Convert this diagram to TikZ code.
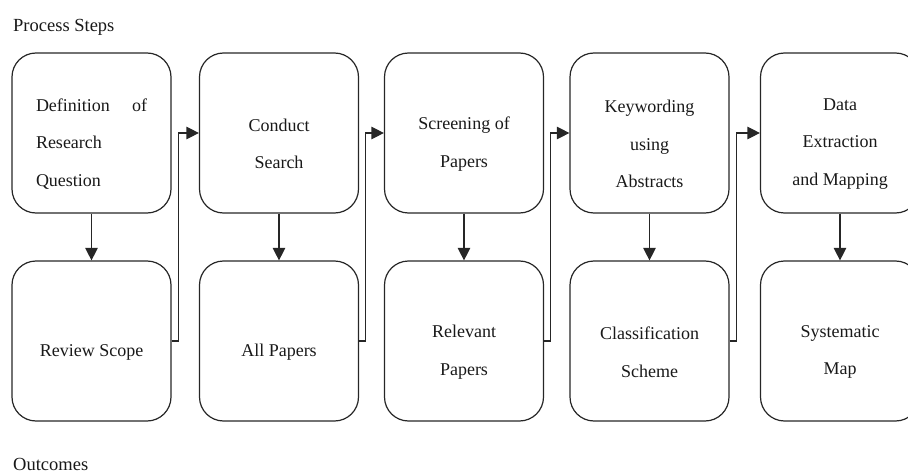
\documentclass[tikz,border=0pt]{standalone}
\usepackage{fontspec}
\setmainfont{Liberation Serif}
\usetikzlibrary{arrows.meta}
\begin{document}
\begin{tikzpicture}[x=1pt,y=-1pt,
  stage/.style={draw=black!85,line width=1.2pt,rounded corners=24pt,
    minimum width=159pt,minimum height=160pt,inner sep=0pt},
  boxtext/.style={font=\fontsize{18}{37.5}\selectfont,align=center,inner sep=0pt,text=black!90},
  flow/.style={draw=black!85,line width=1.2pt,-{Triangle[length=12.5pt,width=12.5pt]}},
  heading/.style={font=\fontsize{18.5}{21}\selectfont,anchor=base west,inner sep=0pt,text=black!90}]
\useasboundingbox (0,0) rectangle (908,476);

% section headings
\node[heading] (hsteps) at (13,32) {Process Steps};
\node[heading] (houts) at (13,470) {Outcomes};

% process steps (top row)
\node[stage] (p1) at (91.5,133) {};
\node[stage] (p2) at (279,133) {};
\node[stage] (p3) at (464,133) {};
\node[stage] (p4) at (649.5,133) {};
\node[stage] (p5) at (840,133) {};

% outcomes (bottom row)
\node[stage] (o1) at (91.5,341) {};
\node[stage] (o2) at (279,341) {};
\node[stage] (o3) at (464,341) {};
\node[stage] (o4) at (649.5,341) {};
\node[stage] (o5) at (840,341) {};

% box texts
\node[boxtext,align=left,text width=111pt,yshift=-11pt] (tp1) at (p1.center)
  {Definition\hfill of\\Research\\Question};
\node[boxtext,yshift=-11pt] (tp2) at (p2.center) {Conduct\\Search};
\node[boxtext,yshift=-11pt] (tp3) at (p3.center) {Screening of\\Papers};
\node[boxtext,yshift=-11pt] (tp4) at (p4.center) {Keywording\\using\\Abstracts};
\node[boxtext,yshift=-11pt] (tp5) at (p5.center) {Data\\Extraction\\and Mapping};

\node[boxtext,yshift=-11pt] (to1) at (o1.center) {Review Scope};
\node[boxtext,yshift=-11pt] (to2) at (o2.center) {All Papers};
\node[boxtext,yshift=-11pt] (to3) at (o3.center) {Relevant\\Papers};
\node[boxtext,yshift=-11pt] (to4) at (o4.center) {Classification\\Scheme};
\node[boxtext,yshift=-11pt] (to5) at (o5.center) {Systematic\\Map};

% each step yields its outcome
\foreach \i in {1,...,5}
  \draw[flow] (p\i.south) -- (o\i.north);

% each outcome feeds the next step
\foreach \i/\j in {1/2,2/3,3/4,4/5}
  \draw[flow] (o\i.east) -- ++(6.5,0) |- (p\j.west);
\end{tikzpicture}
\end{document}
